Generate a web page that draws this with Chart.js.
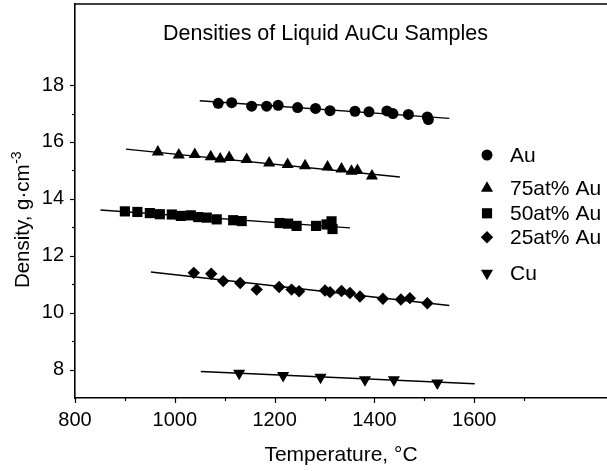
<!DOCTYPE html>
<html><head><meta charset="utf-8">
<script src="https://cdn.jsdelivr.net/npm/chart.js@4/dist/chart.umd.min.js"></script>
<style>html,body{margin:0;padding:0;background:#fff}#wrap{width:607px;height:471px}</style>
</head><body><div id="wrap"><canvas id="c" width="607" height="471"></canvas></div>
<script>
// ---- data ----
const seriesLabels = ['Au', '75at% Au', '50at% Au', '25at% Au', 'Cu'];
const auTemp = [1087,1114,1154,1184,1207,1246,1282,1311,1361,1389,1425,1437,1468,1506,1508];
const auDens = [17.36,17.38,17.26,17.26,17.29,17.21,17.18,17.10,17.08,17.06,17.09,17.00,16.97,16.88,16.79];
const au75Temp = [966,1008,1040,1072,1091,1109,1144,1189,1226,1261,1306,1334,1354,1366,1395];
const au75Dens = [15.65,15.54,15.56,15.48,15.40,15.45,15.38,15.26,15.21,15.16,15.12,15.05,14.97,15.00,14.80];
const au50Temp = [900,925,950,970,994,1012,1032,1047,1064,1084,1117,1134,1210,1227,1244,1283,1304,1314,1316];
const au50Dens = [13.56,13.54,13.50,13.46,13.45,13.40,13.42,13.36,13.34,13.28,13.25,13.22,13.15,13.13,13.05,13.05,13.10,13.21,12.94];
const au25Temp = [1038,1073,1097,1131,1164,1209,1234,1249,1301,1311,1334,1351,1371,1417,1453,1471,1506];
const au25Dens = [11.40,11.37,11.11,11.04,10.81,10.90,10.81,10.75,10.78,10.72,10.76,10.69,10.57,10.49,10.46,10.51,10.33];
const cuTemp = [1129,1217,1292,1381,1439,1526];
const cuDens = [7.87,7.79,7.73,7.64,7.64,7.53];
// fitted lines: [startT, endT], [startD, endD]
const auFitT = [1050, 1550], auFitD = [17.45, 16.83];
const au75FitT = [902, 1451], au75FitD = [15.75, 14.77];
const au50FitT = [851, 1351], au50FitD = [13.61, 12.98];
const au25FitT = [952, 1550], au25FitD = [11.43, 10.25];
const cuFitT = [1052, 1601], cuFitD = [7.93, 7.50];
// ticks
const xLabelValues = [800, 1000, 1200, 1400, 1600];
const xTickValues = [800, 900, 1000, 1100, 1200, 1300, 1400, 1500, 1600, 1700];
const yLabelValues = [8, 10, 12, 14, 16, 18];
const yTickValues = [8, 9, 10, 11, 12, 13, 14, 15, 16, 17, 18];
const chartTitle = 'Densities of Liquid AuCu Samples';
const xTitle = 'Temperature, \u00B0C';
const yTitleMain = 'Density, g\u00B7cm';
const yTitleSup = '-3';

const FONT = "'Liberation Sans', Arial, Helvetica, sans-serif";
Chart.defaults.font.family = FONT;
Chart.defaults.color = '#000';

const pts = (xs, ys) => xs.map((v, i) => ({x: v, y: ys[i]}));
const styles = [
  {pointStyle: 'circle', radius: 5.5, rotation: 0},
  {pointStyle: 'triangle', radius: 7, rotation: 0},
  {pointStyle: 'rect', radius: 7.2, rotation: 0},
  {pointStyle: 'rectRot', radius: 6.2, rotation: 0},
  {pointStyle: 'triangle', radius: 7, rotation: 180}
];
const seriesData = [pts(auTemp, auDens), pts(au75Temp, au75Dens), pts(au50Temp, au50Dens), pts(au25Temp, au25Dens), pts(cuTemp, cuDens)];
const fitData = [pts(auFitT, auFitD), pts(au75FitT, au75FitD), pts(au50FitT, au50FitD), pts(au25FitT, au25FitD), pts(cuFitT, cuFitD)];

const datasets = [];
seriesData.forEach((d, i) => {
  datasets.push({
    label: seriesLabels[i], data: d, showLine: false, order: 0,
    pointStyle: styles[i].pointStyle, pointRadius: styles[i].radius, pointRotation: styles[i].rotation,
    pointBackgroundColor: '#000', pointBorderColor: '#000', pointBorderWidth: 0, pointHoverRadius: styles[i].radius
  });
});
fitData.forEach((d, i) => {
  datasets.push({
    label: seriesLabels[i] + ' fit', data: d, showLine: true, order: 1,
    borderColor: '#000', borderWidth: 1.4, pointRadius: 0, fill: false
  });
});

function drawMarker(ctx, st, x, y) {
  ctx.fillStyle = '#000'; ctx.strokeStyle = '#000';
  if (Chart.helpers && Chart.helpers.drawPoint) {
    Chart.helpers.drawPoint(ctx, {pointStyle: st.pointStyle, radius: st.radius, rotation: st.rotation, borderWidth: 0}, x, y);
  } else {
    ctx.beginPath(); ctx.arc(x, y, st.radius, 0, Math.PI * 2); ctx.fill();
  }
}

const decor = {
  id: 'decor',
  afterDraw(chart) {
    const {ctx, chartArea: a, scales: {x, y}} = chart;
    ctx.save();
    ctx.strokeStyle = '#000';
    ctx.lineWidth = 1.6;
    ctx.beginPath(); ctx.moveTo(a.left - 0.8, a.top); ctx.lineTo(a.right, a.top); ctx.stroke();
    ctx.lineWidth = 1.2;
    xTickValues.forEach(v => {
      const px = Math.round(x.getPixelForValue(v)) + 0.5;
      const len = xLabelValues.includes(v) ? 5 : 3;
      ctx.beginPath(); ctx.moveTo(px, a.bottom); ctx.lineTo(px, a.bottom + len); ctx.stroke();
    });
    yTickValues.forEach(v => {
      const py = Math.round(y.getPixelForValue(v)) + 0.5;
      const len = yLabelValues.includes(v) ? 5 : 3;
      ctx.beginPath(); ctx.moveTo(a.left, py); ctx.lineTo(a.left - len, py); ctx.stroke();
    });
    // chart title
    ctx.fillStyle = '#000';
    ctx.font = '21.5px ' + FONT;
    ctx.textAlign = 'center'; ctx.textBaseline = 'alphabetic';
    ctx.fillText(chartTitle, 325.5, 40);
    // y axis title with superscript
    ctx.save();
    ctx.translate(29, 0);
    ctx.rotate(-Math.PI / 2);
    ctx.font = '20.5px ' + FONT;
    const w1 = ctx.measureText(yTitleMain).width;
    ctx.font = '14px ' + FONT;
    const w2 = ctx.measureText(yTitleSup).width;
    const start = -220 - (w1 + w2) / 2;
    ctx.textAlign = 'left';
    ctx.font = '20.5px ' + FONT;
    ctx.fillText(yTitleMain, start, 0);
    ctx.font = '14px ' + FONT;
    ctx.fillText(yTitleSup, start + w1 + 0.5, -8);
    ctx.restore();
    // legend
    const legendY = [155, 188.3, 213.3, 237.3, 273.3];
    ctx.font = '21px ' + FONT;
    ctx.textAlign = 'left'; ctx.textBaseline = 'middle';
    seriesLabels.forEach((lab, i) => {
      drawMarker(ctx, styles[i], 487, legendY[i]);
      ctx.fillStyle = '#000';
      ctx.fillText(lab, 510, legendY[i] + 1);
    });
    ctx.restore();
  }
};

const noPad = s => { s.paddingTop = 0; s.paddingBottom = 0; s.paddingLeft = 0; s.paddingRight = 0; };

new Chart(document.getElementById('c'), {
  type: 'scatter',
  data: {datasets},
  plugins: [decor],
  options: {
    responsive: false, animation: false, devicePixelRatio: 1,
    layout: {autoPadding: false, padding: {top: 4, right: 0, left: 0, bottom: 0}},
    plugins: {legend: {display: false}, tooltip: {enabled: false}, title: {display: false}},
    scales: {
      x: {
        type: 'linear', min: 800, max: 1866,
        afterBuildTicks: s => { s.ticks = xLabelValues.map(v => ({value: v})); },
        afterFit: s => { s.height = 73; noPad(s); },
        grid: {display: false, drawTicks: false},
        border: {display: true, color: '#000', width: 1.6},
        ticks: {autoSkip: false, maxRotation: 0, padding: 10, font: {size: 20}, color: '#000', callback: v => String(v)},
        title: {display: true, text: xTitle, font: {size: 21}, color: '#000', padding: {top: 0, bottom: 3}}
      },
      y: {
        type: 'linear', min: 7, max: 20.85,
        afterBuildTicks: s => { s.ticks = yLabelValues.map(v => ({value: v})); },
        afterFit: s => { s.width = 75; noPad(s); },
        grid: {display: false, drawTicks: false},
        border: {display: true, color: '#000', width: 1.6},
        ticks: {autoSkip: false, padding: 11, font: {size: 20}, color: '#000', callback: v => String(v)}
      }
    }
  }
});
</script>
</body></html>
